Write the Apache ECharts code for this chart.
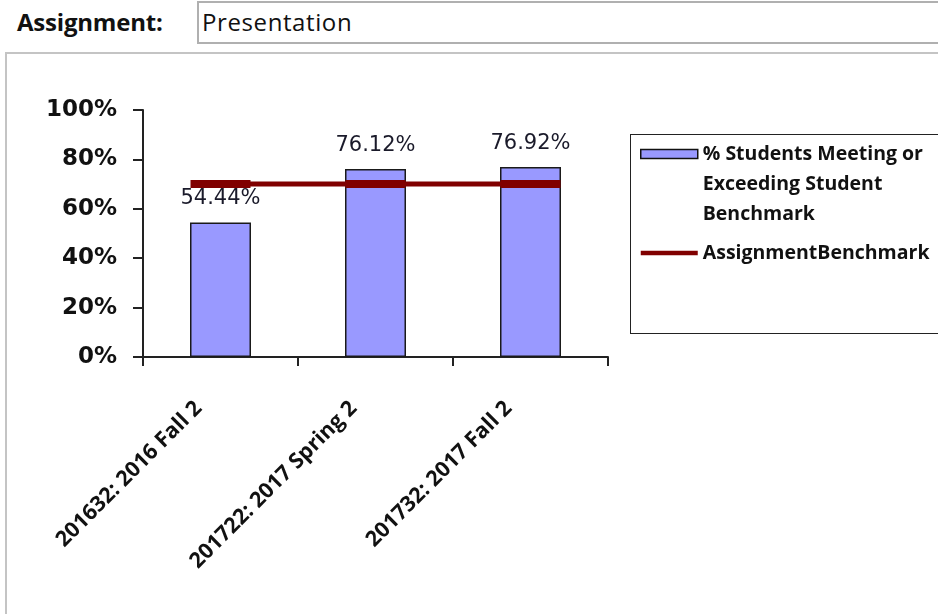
<!DOCTYPE html>
<html>
<head>
<meta charset="utf-8">
<script src="https://cdn.jsdelivr.net/npm/echarts@6/dist/echarts.min.js"></script>
<style>
  html, body { margin: 0; padding: 0; width: 938px; height: 614px; overflow: hidden; background: #fff; }
  #hdrLabel { position: absolute; left: 17px; top: 5px; font: bold 24px "Open Sans", sans-serif; color: #111; letter-spacing: -0.2px; }
  #hdrBox { position: absolute; left: 197px; top: 1px; width: 780px; height: 43px; border: 2px solid #b0b0b0; box-sizing: border-box; font: 24px "Open Sans", sans-serif; color: #111; line-height: 38px; padding-left: 3px; letter-spacing: 0.6px; }
  #panel { position: absolute; left: 5px; top: 52px; width: 960px; height: 620px; border: 2px solid #c4c4c4; box-sizing: border-box; }
  #legendFrame { position: absolute; left: 630px; top: 134px; width: 330px; height: 200px; border: 1px solid #222; box-sizing: border-box; }
  #chart { position: absolute; left: 0; top: 0; width: 938px; height: 614px; }
</style>
</head>
<body>
<div id="hdrLabel">Assignment:</div>
<div id="hdrBox">Presentation</div>
<div id="panel"></div>
<div id="legendFrame"></div>
<div id="chart"></div>
<script>
// ---- data ----
const categories = ['201632: 2016 Fall 2', '201722: 2017 Spring 2', '201732: 2017 Fall 2'];
const studentsPct = [54.44, 76.12, 76.92];
const benchmarkPct = [70, 70, 70];
const yTicks = [0, 20, 40, 60, 80, 100];
const barName = '% Students Meeting or Exceeding Student Benchmark';
const lineName = 'AssignmentBenchmark';

const chart = echarts.init(document.getElementById('chart'), null, { renderer: 'canvas' });
chart.setOption({
  animation: false,
  backgroundColor: 'transparent',
  grid: { left: 143, top: 110, width: 465, height: 247, containLabel: false },
  legend: {
    orient: 'vertical',
    left: 640,
    top: 79,
    padding: 0,
    itemWidth: 57,
    itemHeight: 9,
    itemGap: 9,
    textStyle: { fontFamily: 'Open Sans', fontWeight: 'bold', fontSize: 19.5, lineHeight: 30, color: '#111' },
    formatter: function (name) {
      // two leading blank lines keep the swatch level with the first text line
      return name === barName ? ' \n \n% Students Meeting or\nExceeding Student\nBenchmark' : name;
    },
    data: [
      { name: barName, icon: 'rect', itemStyle: { color: '#9999ff', borderColor: '#111', borderWidth: 1.5 } },
      { name: lineName, icon: 'path://M0,0H62V5H0Z', itemStyle: { color: '#800000', borderWidth: 0 } }
    ]
  },
  xAxis: {
    type: 'category',
    data: categories,
    boundaryGap: true,
    axisLine: { lineStyle: { color: '#222', width: 2 } },
    axisTick: { show: true, length: 9, lineStyle: { color: '#222', width: 2 } },
    axisLabel: {
      interval: 0,
      rotate: 45,
      margin: 26,
      padding: [0, 31, 0, 0],
      fontFamily: 'Open Sans',
      fontWeight: 'bold',
      fontSize: 21.5,
      color: '#111'
    }
  },
  yAxis: {
    type: 'value',
    min: yTicks[0],
    max: yTicks[yTicks.length - 1],
    interval: yTicks[1] - yTicks[0],
    axisLine: { show: true, lineStyle: { color: '#222', width: 2 } },
    axisTick: { show: true, length: 10, lineStyle: { color: '#222', width: 2 } },
    splitLine: { show: false },
    axisLabel: {
      formatter: '{value}%',
      margin: 26,
      fontFamily: 'DejaVu Sans',
      fontWeight: 'bold',
      fontSize: 23,
      color: '#111'
    }
  },
  series: [
    {
      name: barName,
      type: 'bar',
      data: studentsPct,
      barWidth: 61,
      itemStyle: { color: '#9999ff', borderColor: '#1a1a1a', borderWidth: 1.5 },
      label: {
        show: true,
        position: 'top',
        distance: 13,
        formatter: function (p) { return p.value.toFixed(2) + '%'; },
        fontFamily: 'DejaVu Sans',
        fontSize: 21,
        color: '#1a1a2a'
      },
      z: 2
    },
    {
      name: lineName,
      type: 'line',
      data: benchmarkPct,
      symbol: 'rect',
      symbolSize: [60, 8],
      itemStyle: { color: '#800000' },
      lineStyle: { color: '#800000', width: 5 },
      z: 3
    }
  ]
});
</script>
</body>
</html>
